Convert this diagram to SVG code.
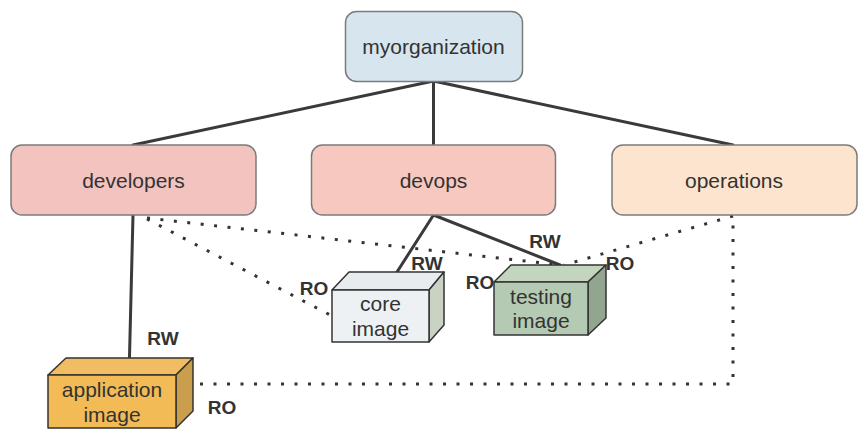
<svg xmlns="http://www.w3.org/2000/svg" width="868" height="441" viewBox="0 0 868 441">
<style>
.box{stroke:#7b7b7b;stroke-width:1.5}
.t{font-family:"Liberation Sans",Arial,sans-serif;font-size:21px;fill:#333;text-anchor:middle}
.lbl{font-family:"Liberation Sans",Arial,sans-serif;font-size:19px;font-weight:bold;fill:#333;text-anchor:middle}
.solid{stroke:#3a3a3a;stroke-width:3;fill:none;stroke-linecap:round}
.dot{stroke:#333;stroke-width:3;fill:none;stroke-dasharray:3 10.5}
.cube{stroke:#333;stroke-width:1.5;stroke-linejoin:round}
</style>
<rect width="868" height="441" fill="#fff"/>
<g id="connectors">
<line class="solid" x1="433.5" y1="81" x2="133" y2="145"/>
<line class="solid" x1="433.5" y1="81" x2="433.5" y2="145"/>
<line class="solid" x1="433.5" y1="81" x2="733" y2="145"/>
<line class="solid" x1="133" y1="215" x2="129.5" y2="357"/>
<line class="solid" x1="433.5" y1="215" x2="397" y2="272"/>
<line class="solid" x1="433.5" y1="215" x2="560" y2="265"/>
<path class="dot" d="M147 218 L560 265"/>
<path class="dot" d="M147 219 L332 316"/>
<path class="dot" d="M733 216 L564 265"/>
<path class="dot" d="M200 384 L733 384 L733 216"/>
</g>
<g id="myorganization">
<rect class="box" x="345.5" y="11.5" width="177" height="70" rx="11" fill="#d6e5ee"/>
<text class="t" x="433.5" y="54">myorganization</text>
</g>
<g id="developers">
<rect class="box" x="11" y="145" width="245" height="70" rx="11" fill="#f2c3bf"/>
<text class="t" x="133.5" y="188">developers</text>
</g>
<g id="devops">
<rect class="box" x="311.5" y="145" width="244" height="70" rx="11" fill="#f6c8bf"/>
<text class="t" x="433.5" y="188">devops</text>
</g>
<g id="operations">
<rect class="box" x="612" y="145" width="245" height="70" rx="11" fill="#fde4cf"/>
<text class="t" x="734" y="188">operations</text>
</g>
<g id="core-image">
<polygon class="cube" points="332,290 349,272 444,272 429,290" fill="#e8ecef"/>
<polygon class="cube" points="429,290 444,272 444,325 429,342" fill="#c9d2c3"/>
<rect class="cube" x="332" y="290" width="97" height="52" fill="#eef1f4"/>
<text class="t" x="380.5" y="311">core</text>
<text class="t" x="380.5" y="336">image</text>
</g>
<g id="testing-image">
<polygon class="cube" points="494,282 511,265 606,265 588,282" fill="#c4d5bf"/>
<polygon class="cube" points="588,282 606,265 606,318 588,335" fill="#92a58f"/>
<rect class="cube" x="494" y="282" width="94" height="53" fill="#b4cab2"/>
<text class="t" x="541" y="304">testing</text>
<text class="t" x="541" y="328">image</text>
</g>
<g id="application-image">
<polygon class="cube" points="48,375 66,358 193,358 176,375" fill="#f0bd63"/>
<polygon class="cube" points="176,375 193,358 193,411 176,428" fill="#c99e4c"/>
<rect class="cube" x="48" y="375" width="128" height="53" fill="#f2bb55"/>
<text class="t" x="112" y="397">application</text>
<text class="t" x="112" y="422">image</text>
</g>
<g id="labels">
<text class="lbl" x="163" y="345">RW</text>
<text class="lbl" x="222" y="414">RO</text>
<text class="lbl" x="314" y="295">RO</text>
<text class="lbl" x="427" y="270">RW</text>
<text class="lbl" x="545" y="248">RW</text>
<text class="lbl" x="480" y="289">RO</text>
<text class="lbl" x="620" y="270">RO</text>
</g>
</svg>
